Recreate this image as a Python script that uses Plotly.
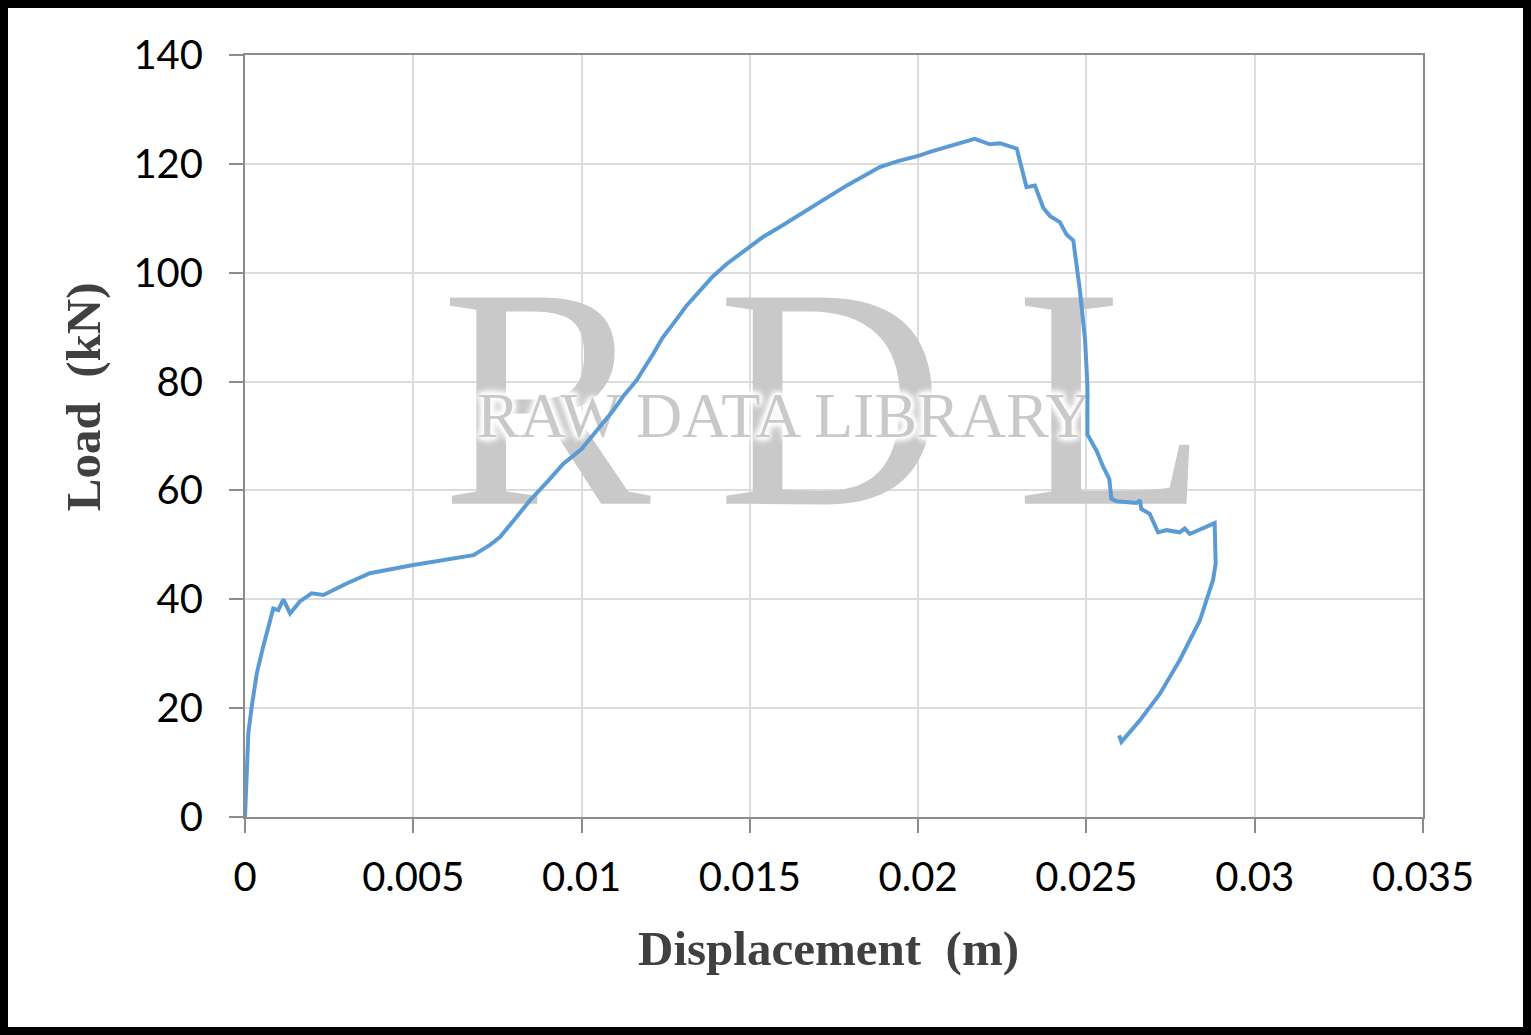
import plotly.graph_objects as go

displacement = [0, 0.00005, 0.0001, 0.0002, 0.00035, 0.00054, 0.00074, 0.00084, 0.00099, 0.00114, 0.00134,
                0.00163, 0.00198, 0.00233, 0.00302, 0.00371, 0.005, 0.006, 0.00679, 0.00728, 0.00757,
                0.008, 0.00847, 0.009, 0.00946, 0.01, 0.01047, 0.01094, 0.01125, 0.01163, 0.01213,
                0.0124, 0.01272, 0.0131, 0.01352, 0.0139, 0.01431, 0.0147, 0.01503, 0.0154, 0.01589,
                0.0164, 0.01688, 0.0174, 0.01787, 0.0184, 0.01886, 0.0194, 0.02003, 0.0204, 0.02084,
                0.0213, 0.02168, 0.02213, 0.02243, 0.02293,
                0.02303, 0.02322, 0.02347, 0.02372, 0.02392, 0.02421, 0.02441, 0.02461, 0.02481, 0.02496,
                0.02503, 0.02503, 0.0253, 0.0255, 0.02568, 0.02574, 0.0259, 0.02649, 0.02659, 0.02663,
                0.02688, 0.02698, 0.02713, 0.02738, 0.02777, 0.02792, 0.02807, 0.02881, 0.02884, 0.02876,
                0.02837, 0.02777, 0.02718, 0.02658, 0.02604, 0.02597]
load = [0, 10.5, 15.5, 20.3, 26.4, 31.3, 35.6, 38.3, 38.0, 40.0, 37.4,
        39.6, 41.1, 40.8, 42.9, 44.8, 46.3, 47.3, 48.1, 50.0, 51.4,
        54.6, 58.2, 61.7, 64.9, 67.6, 71.2, 74.7, 77.4, 80.2, 85.1,
        88.0, 90.6, 93.8, 96.7, 99.3, 101.6, 103.4, 104.8, 106.6, 108.4,
        110.4, 112.3, 114.2, 116.0, 117.8, 119.4, 120.5, 121.5, 122.3, 123.1,
        124.0, 124.6, 123.6, 123.8, 122.8,
        120.5, 115.7, 116.0, 111.9, 110.4, 109.3, 107.0, 105.9, 96.6, 87.6,
        79.3, 70.3, 67.3, 64.3, 62.1, 58.5, 58.0, 57.7, 58.2, 56.6,
        55.7, 54.2, 52.3, 52.7, 52.3, 53.0, 52.0, 54.0, 46.5, 43.5,
        36.1, 28.8, 22.6, 17.7, 13.8, 15.0]

x_tickvals = [0, 0.005, 0.01, 0.015, 0.02, 0.025, 0.03, 0.035]
x_ticktext = ["0", "0.005", "0.01", "0.015", "0.02", "0.025", "0.03", "0.035"]
y_tickvals = [0, 20, 40, 60, 80, 100, 120, 140]
y_ticktext = ["0", "20", "40", "60", "80", "100", "120", "140"]

wm_letters = ["R", "D", "L"]
wm_x = [0.00894, 0.01741, 0.02576]
wm_y = [72.0, 72.0, 72.0]
wm_sub = ["RAW DATA LIBRARY"]
wm_sub_x = [0.01602]
wm_sub_y = [72.8]

fig = go.Figure()
fig.add_trace(go.Scatter(x=wm_x, y=wm_y, mode="text", text=wm_letters,
                         textfont=dict(family="Liberation Serif", size=315, color="#c9c9c9"),
                         hoverinfo="skip", showlegend=False))
fig.add_trace(go.Scatter(x=wm_sub_x, y=wm_sub_y, mode="text", text=wm_sub,
                         textfont=dict(family="Liberation Serif", size=64, color="#c9c9c9",
                                       shadow="0px 0px 10px #ffffff, 0px 0px 10px #ffffff, "
                                              "0px 0px 10px #ffffff, 0px 0px 10px #ffffff, "
                                              "0px 0px 6px #ffffff, 0px 0px 6px #ffffff, "
                                              "0px 0px 4px #ffffff, 0px 0px 4px #ffffff"),
                         hoverinfo="skip", showlegend=False))
fig.add_trace(go.Scatter(x=displacement, y=load, mode="lines",
                         line=dict(color="#5b9bd5", width=4), showlegend=False))

axis_common = dict(showline=True, linecolor="#8c8c8c", linewidth=2, mirror=True,
                   ticks="outside", ticklen=14, tickcolor="#8c8c8c", tickwidth=2,
                   showgrid=True, gridcolor="#dcdcdc", gridwidth=1.5, zeroline=False,
                   tickfont=dict(family="Lato", size=40, color="#000000"))

fig.update_xaxes(range=[0, 0.035], tickvals=x_tickvals, ticktext=x_ticktext,
                 ticklabelstandoff=10, **axis_common)
fig.update_yaxes(range=[0, 140], tickvals=y_tickvals, ticktext=y_ticktext,
                 ticklabelstandoff=18, **axis_common)

title_font = dict(family="Liberation Serif", size=49, color="#404040", weight="bold")
fig.add_annotation(text="Load\u00a0\u00a0(kN)", xref="paper", yref="paper",
                   x=-0.1375, y=0.551, textangle=-90, showarrow=False, font=title_font,
                   xanchor="center", yanchor="middle")
fig.add_annotation(text="Displacement\u00a0\u00a0(m)", xref="paper", yref="paper",
                   x=0.495, y=-0.172, showarrow=False, font=title_font,
                   xanchor="center", yanchor="middle")

fig.add_shape(type="rect", xref="paper", yref="paper",
              x0=(4 - 245) / 1178, x1=(1527 - 245) / 1178,
              y0=(817 - 1031) / 762, y1=(817 - 4) / 762,
              line=dict(color="#000000", width=8), fillcolor="rgba(0,0,0,0)", layer="above")

fig.update_layout(width=1531, height=1035,
                  margin=dict(l=245, r=108, t=55, b=218),
                  paper_bgcolor="white", plot_bgcolor="white")

fig.write_html("out.html", config={"displayModeBar": False},
               post_script=["document.body.style.margin='0px';"])
